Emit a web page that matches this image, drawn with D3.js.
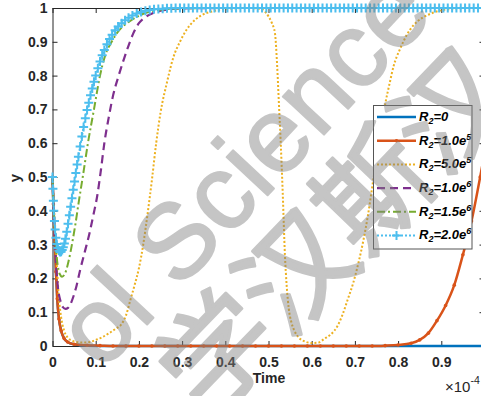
<!DOCTYPE html>
<html>
<head>
<meta charset="utf-8">
<script src="https://cdn.jsdelivr.net/npm/d3@7"></script>
<style>
  html, body { margin: 0; padding: 0; background: #ffffff; }
  svg { display: block; }
</style>
</head>
<body>
<svg id="chart" width="481" height="396"></svg>
<script>
// Time is in units of 1e-4 (see the ×10^-4 axis multiplier).

// R2 = 0
const tR0 = [0, 0.002, 0.005, 0.008, 0.011, 0.015, 0.02, 0.027, 0.035, 0.05, 0.08, 0.15, 0.4, 0.7, 1.0];
const yR0 = [0.5, 0.42, 0.32, 0.22, 0.14, 0.08, 0.045, 0.022, 0.012, 0.005, 0.001, 0, 0, 0, 0];

// R2 = 1.0e5
const tR1 = [0, 0.002, 0.005, 0.008, 0.011, 0.015, 0.02, 0.027, 0.035, 0.05, 0.08, 0.11, 0.14, 0.17, 0.2,
             0.23, 0.26, 0.29, 0.32, 0.35, 0.38, 0.41, 0.44, 0.47, 0.5, 0.53, 0.56, 0.59, 0.62, 0.65,
             0.68, 0.71, 0.74, 0.77, 0.8, 0.83, 0.85, 0.87, 0.89, 0.91, 0.93, 0.95, 0.97, 0.99, 1.0];
const yR1 = [0.5, 0.42, 0.32, 0.22, 0.14, 0.08, 0.045, 0.022, 0.012, 0.005, 0.002, 0.001, 0, 0, 0,
             0, 0, 0, 0, 0, 0, 0, 0, 0, 0, 0, 0, 0, 0, 0,
             0, 0, 0, 0.001, 0.003, 0.008, 0.018, 0.038, 0.075, 0.12, 0.18, 0.27, 0.37, 0.5, 0.57];

// R2 = 5.0e5
const tR2 = [0, 0.003, 0.006, 0.01, 0.015, 0.02, 0.027, 0.035, 0.045, 0.06,
             0.075, 0.09, 0.1, 0.115, 0.13, 0.145, 0.16, 0.17, 0.18, 0.19,
             0.2, 0.21, 0.22, 0.23, 0.24, 0.25, 0.265, 0.28, 0.295, 0.31,
             0.33, 0.35, 0.37, 0.4, 0.45, 0.48, 0.49, 0.5, 0.508, 0.515,
             0.52, 0.524, 0.528, 0.533, 0.538, 0.542, 0.547, 0.553, 0.56, 0.57,
             0.585, 0.6, 0.615, 0.63, 0.645, 0.66, 0.672, 0.684, 0.696, 0.708,
             0.72, 0.73, 0.74, 0.75, 0.76, 0.77, 0.78, 0.79, 0.805, 0.82,
             0.835, 0.855, 0.875, 0.9, 0.93, 0.96, 1.0];
const yR2 = [0.5, 0.42, 0.35, 0.24, 0.14, 0.085, 0.045, 0.025, 0.016, 0.011,
             0.01, 0.013, 0.018, 0.026, 0.037, 0.05, 0.065, 0.09, 0.135, 0.18,
             0.23, 0.3, 0.39, 0.49, 0.6, 0.69, 0.78, 0.855, 0.9, 0.935,
             0.965, 0.982, 0.99, 0.997, 1, 0.998, 0.992, 0.975, 0.955, 0.925,
             0.83, 0.72, 0.61, 0.45, 0.27, 0.18, 0.11, 0.07, 0.045, 0.025,
             0.013, 0.009, 0.01, 0.022, 0.035, 0.06, 0.095, 0.14, 0.186, 0.245,
             0.315, 0.385, 0.47, 0.555, 0.64, 0.715, 0.775, 0.83, 0.88, 0.92,
             0.948, 0.97, 0.983, 0.993, 0.998, 1, 1];

// R2 = 1.0e6
const tR3 = [0, 0.004, 0.008, 0.012, 0.018, 0.024, 0.03, 0.036, 0.042, 0.048,
             0.056, 0.064, 0.075, 0.085, 0.095, 0.103, 0.112, 0.12, 0.13, 0.14,
             0.152, 0.163, 0.175, 0.187, 0.2, 0.215, 0.233, 0.26, 0.3, 0.4, 1.0];
const yR3 = [0.5, 0.36, 0.25, 0.18, 0.135, 0.115, 0.11, 0.113, 0.125, 0.145,
             0.18, 0.225, 0.28, 0.33, 0.39, 0.44, 0.52, 0.6, 0.675, 0.74,
             0.795, 0.84, 0.885, 0.925, 0.955, 0.973, 0.985, 0.994, 0.999, 1, 1];

// R2 = 1.5e6
const tR4 = [0, 0.003, 0.006, 0.01, 0.014, 0.018, 0.022, 0.027, 0.032, 0.037,
             0.042, 0.047, 0.053, 0.06, 0.07, 0.082, 0.096, 0.11, 0.122, 0.137,
             0.15, 0.165, 0.18, 0.2, 0.22, 0.25, 0.3, 0.4, 1.0];
const yR4 = [0.5, 0.4, 0.325, 0.26, 0.225, 0.21, 0.205, 0.21, 0.225, 0.25,
             0.28, 0.315, 0.36, 0.42, 0.5, 0.6, 0.7, 0.8, 0.86, 0.9,
             0.927, 0.948, 0.962, 0.977, 0.987, 0.995, 0.999, 1, 1];

// R2 = 2.0e6 (solver output points, each drawn with a marker)
const tR5 = [0, 0.001, 0.002, 0.003, 0.0045, 0.006, 0.008, 0.01, 0.0125, 0.015,
             0.0175, 0.02, 0.0225, 0.025, 0.0275, 0.03, 0.033, 0.036, 0.039, 0.042,
             0.045, 0.048, 0.051, 0.054, 0.057, 0.06, 0.064, 0.068, 0.072, 0.076,
             0.08, 0.084, 0.088, 0.092, 0.096, 0.1, 0.105, 0.11, 0.115, 0.12,
             0.126, 0.132, 0.138, 0.145, 0.152, 0.16, 0.168, 0.176, 0.185, 0.195,
             0.205, 0.215, 0.225, 0.235, 0.245, 0.255, 0.265, 0.275, 0.285, 0.295,
             0.305, 0.315, 0.325, 0.335, 0.345, 0.355, 0.365, 0.375, 0.385, 0.395,
             0.405, 0.415, 0.425, 0.435, 0.445, 0.455, 0.465, 0.475, 0.485, 0.495,
             0.505, 0.515, 0.525, 0.535, 0.545, 0.555, 0.565, 0.575, 0.585, 0.595,
             0.605, 0.615, 0.625, 0.635, 0.645, 0.655, 0.665, 0.675, 0.685, 0.695,
             0.705, 0.715, 0.725, 0.735, 0.745, 0.755, 0.765, 0.775, 0.785, 0.795,
             0.805, 0.815, 0.825, 0.835, 0.845, 0.855, 0.865, 0.875, 0.885, 0.895,
             0.905, 0.915, 0.925, 0.935, 0.945, 0.955, 0.965, 0.975, 0.985, 0.995];
const yR5 = [0.5, 0.465, 0.43, 0.4, 0.37, 0.345, 0.32, 0.302, 0.29, 0.282,
             0.278, 0.279, 0.284, 0.292, 0.303, 0.317, 0.338, 0.362, 0.387, 0.412,
             0.437, 0.462, 0.487, 0.512, 0.537, 0.56, 0.59, 0.62, 0.648, 0.674,
             0.698, 0.72, 0.742, 0.762, 0.782, 0.8, 0.822, 0.842, 0.86, 0.876,
             0.893, 0.908, 0.921, 0.934, 0.945, 0.955, 0.964, 0.971, 0.978, 0.984,
             0.988, 0.992, 0.994, 0.996, 0.997, 0.998, 0.999, 0.999, 1, 1,
             1, 1, 1, 1, 1, 1, 1, 1, 1, 1,
             1, 1, 1, 1, 1, 1, 1, 1, 1, 1,
             1, 1, 1, 1, 1, 1, 1, 1, 1, 1,
             1, 1, 1, 1, 1, 1, 1, 1, 1, 1,
             1, 1, 1, 1, 1, 1, 1, 1, 1, 1,
             1, 1, 1, 1, 1, 1, 1, 1, 1, 1,
             1, 1, 1, 1, 1, 1, 1, 1, 1, 1];

// Legend text pieces: R_2 = coefficient e^exponent
const legendCoef = ["0", "1.0", "5.0", "1.0", "1.5", "2.0"];
const legendExp  = [null, "5", "5", "6", "6", "6"];

// Axis ticks (the label at 1 falls outside the figure's right edge)
const xTickValues = [0, 0.1, 0.2, 0.3, 0.4, 0.5, 0.6, 0.7, 0.8, 0.9, 1];
const xTickLabels = ["0", "0.1", "0.2", "0.3", "0.4", "0.5", "0.6", "0.7", "0.8", "0.9", ""];
const yTickValues = [0, 0.1, 0.2, 0.3, 0.4, 0.5, 0.6, 0.7, 0.8, 0.9, 1];
const yTickLabels = ["0", "0.1", "0.2", "0.3", "0.4", "0.5", "0.6", "0.7", "0.8", "0.9", "1"];

// ---------------------------------------------------------------------------
const FONT = "'Liberation Sans', Arial, Helvetica, sans-serif";
const AXIS = "#262626";

const svg = d3.select("#chart");
const x = d3.scaleLinear().domain([0, 1]).range([52.5, 484.5]);
const y = d3.scaleLinear().domain([0, 1]).range([346, 8]);

// Line styles, in plotting order
const styles = [
  { t: tR0, v: yR0, color: "#0072BD", width: 2.5, dash: null },
  { t: tR1, v: yR1, color: "#D95319", width: 2.5, dash: null, dot: true },
  { t: tR2, v: yR2, color: "#EDB120", width: 2.0, dash: "2 2" },
  { t: tR3, v: yR3, color: "#7E2F8E", width: 2.2, dash: "8 5" },
  { t: tR4, v: yR4, color: "#77AC30", width: 2.0, dash: "8 3 2 3" },
  { t: tR5, v: yR5, color: "#4DBEEE", width: 2.0, dash: "2 2", plus: true }
];

// Axes (box with inward ticks)
function styleAxis(g) {
  g.select(".domain").attr("stroke", AXIS).attr("stroke-width", 1);
  g.selectAll(".tick line").attr("stroke", AXIS).attr("stroke-width", 1);
  g.selectAll(".tick text").attr("fill", AXIS);
  g.attr("font-family", FONT).attr("font-size", 14).attr("font-weight", "bold");
}

svg.append("g")
  .attr("transform", `translate(0,${y(0)})`)
  .call(d3.axisBottom(x).tickValues(xTickValues).tickFormat((d, i) => xTickLabels[i])
    .tickSizeInner(-5).tickSizeOuter(0).tickPadding(11))
  .call(styleAxis);

svg.append("g")
  .attr("transform", `translate(0,${y(1)})`)
  .call(d3.axisTop(x).tickValues(xTickValues).tickFormat("")
    .tickSizeInner(-5).tickSizeOuter(0))
  .call(styleAxis);

svg.append("g")
  .attr("transform", `translate(${x(0)},0)`)
  .call(d3.axisLeft(y).tickValues(yTickValues).tickFormat((d, i) => yTickLabels[i])
    .tickSizeInner(-5).tickSizeOuter(0).tickPadding(5))
  .call(styleAxis);

svg.append("g")
  .attr("transform", `translate(${x(1)},0)`)
  .call(d3.axisRight(y).tickValues(yTickValues).tickFormat("")
    .tickSizeInner(-5).tickSizeOuter(0))
  .call(styleAxis);

// Axis labels
svg.append("text")
  .attr("x", 269).attr("y", 383)
  .attr("text-anchor", "middle")
  .attr("font-family", FONT).attr("font-size", 14).attr("font-weight", "bold")
  .attr("fill", AXIS)
  .text("Time");

svg.append("text")
  .attr("transform", "translate(20,178) rotate(-90)")
  .attr("text-anchor", "middle")
  .attr("font-family", FONT).attr("font-size", 15).attr("font-weight", "bold")
  .attr("fill", AXIS)
  .text("y");

// Exponent multiplier of the time axis
const expLabel = svg.append("text")
  .attr("x", 445).attr("y", 391.5)
  .attr("font-family", FONT).attr("font-size", 15)
  .attr("fill", AXIS);
expLabel.append("tspan").text("×10");
expLabel.append("tspan").attr("font-size", 10.5).attr("dy", -8).text("-4");

// Curves
const line = d3.line()
  .x(d => x(d[0]))
  .y(d => y(d[1]))
  .curve(d3.curveMonotoneX);

const plot = svg.append("g");
styles.forEach(s => {
  const pts = d3.zip(s.t, s.v);
  plot.append("path")
    .datum(pts)
    .attr("d", line)
    .attr("fill", "none")
    .attr("stroke", s.color)
    .attr("stroke-width", s.width)
    .attr("stroke-dasharray", s.dash)
    .attr("stroke-linejoin", "round");
  if (s.dot) {
    plot.append("g").selectAll("circle")
      .data(pts).join("circle")
      .attr("cx", d => x(d[0])).attr("cy", d => y(d[1]))
      .attr("r", 1.8).attr("fill", s.color);
  }
  if (s.plus) {
    plot.append("g").selectAll("path")
      .data(pts).join("path")
      .attr("d", d => `M${x(d[0]) - 4.5},${y(d[1])}h9M${x(d[0])},${y(d[1]) - 4.5}v9`)
      .attr("stroke", s.color).attr("stroke-width", 2).attr("fill", "none");
  }
});

// Legend
const lg = svg.append("g");
lg.append("rect")
  .attr("x", 373.5).attr("y", 105.5).attr("width", 98.5).attr("height", 143.5)
  .attr("fill", "#ffffff").attr("stroke", "#555555").attr("stroke-width", 1);

styles.forEach((s, i) => {
  const ry = 117 + i * 23.7;
  lg.append("line")
    .attr("x1", 377).attr("x2", 416).attr("y1", ry).attr("y2", ry)
    .attr("stroke", s.color).attr("stroke-width", s.width)
    .attr("stroke-dasharray", s.dash);
  if (s.dot) {
    lg.append("circle").attr("cx", 396.5).attr("cy", ry).attr("r", 1.8).attr("fill", s.color);
  }
  if (s.plus) {
    lg.append("path")
      .attr("d", `M392,${ry}h9M396.5,${ry - 4.5}v9`)
      .attr("stroke", s.color).attr("stroke-width", 2);
  }
  const t = lg.append("text")
    .attr("x", 419).attr("y", ry + 3.8)
    .attr("font-family", FONT).attr("font-size", 13)
    .attr("font-weight", "bold").attr("font-style", "italic")
    .attr("fill", "#000000");
  t.append("tspan").text("R");
  t.append("tspan").attr("font-size", 9).attr("dy", 3).text("2");
  t.append("tspan").attr("dy", -3).text("=" + legendCoef[i] + (legendExp[i] ? "e" : ""));
  if (legendExp[i]) {
    t.append("tspan").attr("font-size", 9).attr("dy", -5).text(legendExp[i]);
  }
});

// Publisher watermark laid over the figure (one translucent layer)
const wm = svg.append("g")
  .attr("opacity", 0.45)
  .attr("fill", "#7f7f7f").attr("stroke", "#7f7f7f")
  .attr("stroke-linejoin", "round")
  .style("pointer-events", "none");
const wmLatin = wm.append("g").attr("transform", "translate(307,153) rotate(-47)")
  .attr("font-family", FONT).attr("font-size", 106).attr("stroke-width", 2);
wmLatin.append("text").attr("text-anchor", "middle").text("Science");
wmLatin.append("text").attr("text-anchor", "end").attr("x", -218).text("ol");
wm.append("text")
  .attr("transform", "translate(218,352) rotate(-46)")
  .attr("x", -56).attr("dy", "0.36em")
  .attr("font-family", "'Noto Sans CJK SC', sans-serif").attr("font-size", 112)
  .attr("stroke-width", 3)
  .text("学汉斯汉");
</script>
</body>
</html>
